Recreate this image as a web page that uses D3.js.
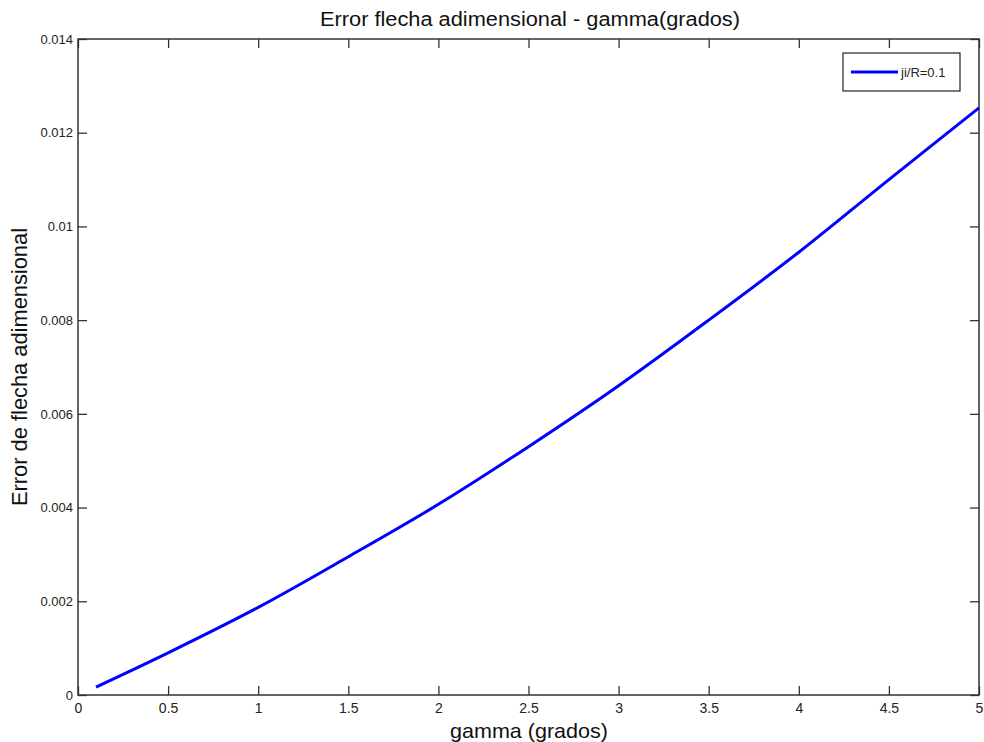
<!DOCTYPE html>
<html>
<head>
<meta charset="utf-8">
<script src="https://cdn.jsdelivr.net/npm/d3@7"></script>
<style>
  html, body { margin: 0; padding: 0; background: #fff; }
  svg { display: block; font-family: "Liberation Sans", Arial, sans-serif; }
</style>
</head>
<body>
<svg id="chart" width="984" height="742"></svg>
<script>
// gamma in degrees and the dimensionless sag error for ji/R = 0.1
const gammaDeg = [0.1, 0.5, 1, 1.5, 2, 2.5, 3, 3.5, 4, 4.5, 5];
const sagError = [0.00017, 0.00090, 0.00187, 0.00295, 0.00407, 0.00530, 0.00660, 0.00800, 0.00945, 0.01100, 0.01253];
const xTicks = [0, 0.5, 1, 1.5, 2, 2.5, 3, 3.5, 4, 4.5, 5];
const yTicks = [0, 0.002, 0.004, 0.006, 0.008, 0.01, 0.012, 0.014];
const seriesName = "ji/R=0.1";

const svg = d3.select("#chart");
const plotL = 78, plotR = 979, plotT = 39, plotB = 695;
const axisColor = "#333";

const x = d3.scaleLinear().domain([0, 5]).range([plotL, plotR]);
const y = d3.scaleLinear().domain([0, 0.014]).range([plotB, plotT]);

const tickLen = 9;

// bottom axis with inward ticks
const gx = svg.append("g").attr("transform", `translate(0,${plotB})`)
  .call(d3.axisBottom(x).tickValues(xTicks).tickFormat(d3.format("")).tickSizeInner(-tickLen).tickSizeOuter(0).tickPadding(8));
// top mirrored ticks
const gxt = svg.append("g").attr("transform", `translate(0,${plotT})`)
  .call(d3.axisTop(x).tickValues(xTicks).tickFormat("").tickSizeInner(-tickLen).tickSizeOuter(0));
// left axis
const gy = svg.append("g").attr("transform", `translate(${plotL},0)`)
  .call(d3.axisLeft(y).tickValues(yTicks).tickFormat(d => d === 0 ? "0" : d3.format(".3~f")(d)).tickSizeInner(-tickLen).tickSizeOuter(0).tickPadding(5));
// right mirrored ticks
const gyr = svg.append("g").attr("transform", `translate(${plotR},0)`)
  .call(d3.axisRight(y).tickValues(yTicks).tickFormat("").tickSizeInner(-tickLen).tickSizeOuter(0));

[gx, gxt, gy, gyr].forEach(g => {
  g.select(".domain").remove();
  g.selectAll(".tick line").attr("stroke", axisColor).attr("stroke-width", 1.3);
  g.selectAll(".tick text").attr("fill", "#222").style("font-size", "13px").style("font-family", '"Liberation Sans", Arial, sans-serif');
});
gx.selectAll(".tick text").style("font-size", "14px");

// frame
svg.append("rect")
  .attr("x", plotL).attr("y", plotT)
  .attr("width", plotR - plotL).attr("height", plotB - plotT)
  .attr("fill", "none").attr("stroke", axisColor).attr("stroke-width", 1.5);

// curve
const pts = gammaDeg.map((g, i) => [g, sagError[i]]);
svg.append("path")
  .datum(pts)
  .attr("fill", "none")
  .attr("stroke", "#0000ff")
  .attr("stroke-width", 3)
  .attr("d", d3.line().x(d => x(d[0])).y(d => y(d[1])).curve(d3.curveCatmullRom.alpha(0.5)));

// title
svg.append("text")
  .attr("x", 530).attr("y", 26)
  .attr("text-anchor", "middle")
  .attr("textLength", 420).attr("lengthAdjust", "spacingAndGlyphs")
  .style("font-size", "20px").attr("fill", "#111")
  .text("Error flecha adimensional - gamma(grados)");

// axis labels
svg.append("text")
  .attr("x", 529).attr("y", 738)
  .attr("text-anchor", "middle")
  .attr("textLength", 158).attr("lengthAdjust", "spacingAndGlyphs")
  .style("font-size", "21px").attr("fill", "#111")
  .text("gamma (grados)");

svg.append("text")
  .attr("transform", `translate(27,367) rotate(-90)`)
  .attr("text-anchor", "middle")
  .attr("textLength", 278).attr("lengthAdjust", "spacingAndGlyphs")
  .style("font-size", "22px").attr("fill", "#111")
  .text("Error de flecha adimensional");

// legend
const lg = svg.append("g");
lg.append("rect")
  .attr("x", 843).attr("y", 53).attr("width", 117).attr("height", 38)
  .attr("fill", "#fff").attr("stroke", "#222").attr("stroke-width", 1.2);
lg.append("line")
  .attr("x1", 851).attr("x2", 898).attr("y1", 72).attr("y2", 72)
  .attr("stroke", "#0000ff").attr("stroke-width", 3);
lg.append("text")
  .attr("x", 901).attr("y", 77)
  .style("font-size", "13px").attr("fill", "#222")
  .text(seriesName);
</script>
</body>
</html>
